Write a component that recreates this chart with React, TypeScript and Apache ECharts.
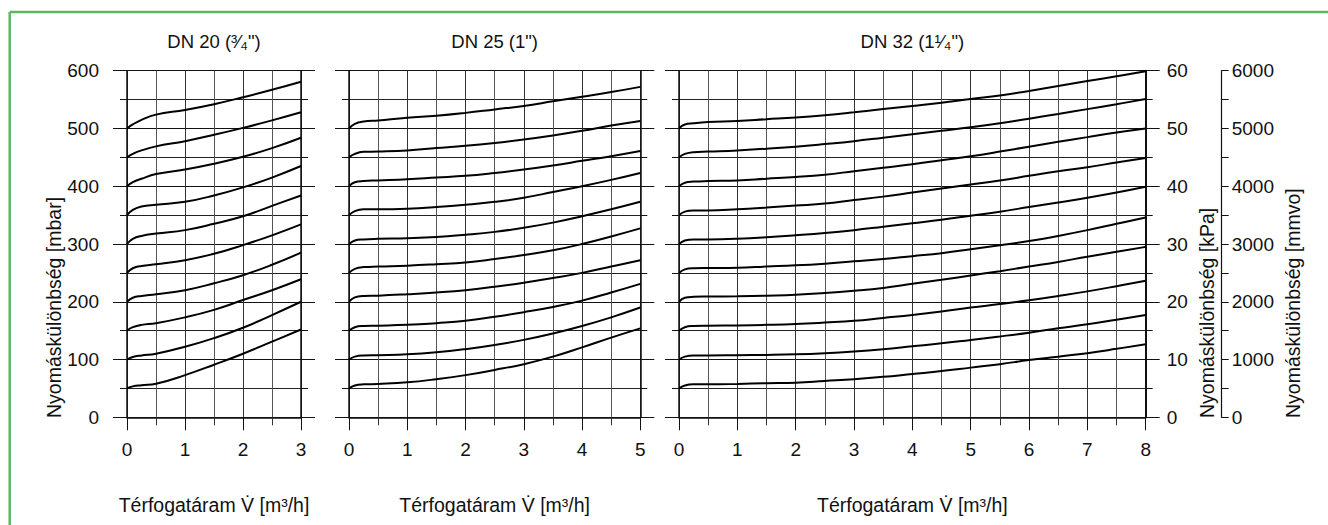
import React, { useEffect, useRef } from "react";
import * as echarts from "echarts";

const FONT = "'Liberation Sans', Arial, Helvetica, sans-serif";

// Panel titles and axis names
const panelTitles = ['DN 20 (³⁄₄")', 'DN 25 (1")', 'DN 32 (1¹⁄₄")'];
const xAxisName = "Térfogatáram V\u0307 [m³/h]";
const leftAxisName = "Nyomáskülönbség [mbar]";
const kpaAxisName = "Nyomáskülönbség [kPa]";
const mmvoAxisName = "Nyomáskülönbség [mmvo]";

// Flow rate (m³/h) sample positions per panel
const dn20X = [0, 0.1, 0.25, 0.5, 1, 1.5, 2, 2.5, 3];
const dn25X = [0, 0.1, 0.25, 0.5, 1, 1.5, 2, 2.5, 3, 3.5, 4, 4.5, 5];
const dn32X = [0, 0.1, 0.25, 0.5, 1, 1.5, 2, 2.5, 3, 3.5, 4, 4.5, 5, 5.5, 6, 6.5, 7, 7.5, 8];

// Pressure difference curves (mbar)
const dn20Curves = [
  [50, 53.5, 55.5, 58, 73, 91, 110, 131, 152],
  [100, 104.5, 107, 110, 122, 137, 155, 177, 200],
  [150, 156, 160, 163, 173, 186, 203, 220, 239],
  [200, 207, 210, 213, 220, 232, 246, 264, 285],
  [250, 258, 262, 265, 272, 283, 298, 315, 334],
  [300, 309, 314, 318, 324, 335, 348, 366, 384],
  [350, 359, 365, 368, 373, 384, 398, 415, 435],
  [400, 407, 413, 421, 429, 439, 451, 466, 484],
  [450, 456, 462, 469, 478, 489, 501, 514, 528],
  [500, 507, 515, 524, 532, 542, 554, 567, 581],
];

const dn25Curves = [
  [50, 55, 57, 57.7, 60.5, 66, 73, 82, 92, 105, 121, 138, 154],
  [100, 105, 107, 107.5, 109, 112.5, 118, 125, 134, 145, 158, 173, 190],
  [150, 156, 158, 158.5, 160, 163, 167, 174, 182, 191, 202, 216, 231],
  [200, 207.5, 210, 210.5, 213, 216, 220, 226, 233, 241, 250, 261, 272],
  [250, 257, 260, 261, 262.5, 265, 268, 274, 281, 289, 300, 313, 327],
  [300, 306, 308, 309, 310, 312, 316, 321, 328, 337, 348, 360, 373],
  [350, 357, 360, 360, 361, 364, 368, 373, 380, 390, 400, 411, 423],
  [400, 407, 409, 410, 412, 415, 418, 423, 429, 436, 444, 452, 461],
  [450, 456, 459.5, 460, 462, 466, 470, 475, 481, 488, 496, 505, 513],
  [500, 508, 512, 514, 518.5, 522, 527, 533, 539, 547, 555, 563, 572],
];

const dn32Curves = [
  [50, 55, 57, 57, 57.7, 59, 60, 63, 66, 70, 75, 80, 86, 92, 99, 105, 111, 118.5, 126.5],
  [100, 105, 107, 107, 107.5, 108, 109, 111, 114, 118, 123, 128, 134, 140, 146.5, 154, 161, 169, 177],
  [150, 156, 158, 158.5, 159, 160, 161.5, 164, 167, 172, 177, 183, 190, 196, 202.5, 210, 218, 227, 236.5],
  [200, 207, 208.5, 209, 209.5, 210.5, 212, 215, 219, 224, 231, 238, 245.5, 253, 261, 269, 278, 286.5, 295],
  [250, 256, 258, 258.5, 259, 261, 263, 266, 270, 274, 279, 284, 291, 298, 305, 314, 324, 335, 346],
  [300, 306, 308, 308, 309, 311.5, 315, 319, 324, 330, 336, 342, 349, 356, 364, 372, 380, 389, 399],
  [350, 356, 358, 358, 360, 363, 366.5, 370, 376, 382, 389, 396, 403, 410, 418, 426, 433, 441, 449],
  [400, 406, 408, 409, 410, 413, 416, 420, 426, 432, 438, 445, 452, 460, 468.5, 477, 485, 493, 500],
  [450, 456, 459, 460, 462, 465, 468.5, 473, 478, 484, 490, 496, 502, 509, 517, 525, 533.5, 542, 551],
  [500, 507, 509, 511, 513, 516, 519, 523, 528, 533.5, 539, 544.5, 551, 557, 565, 573.5, 582, 590.5, 599],
];

// Axis ranges
const xMax = [3, 5, 8];
const mbarMax = 600;
const kpaMax = 60;
const mmvoMax = 6000;

export default function App() {
  const ref = useRef<HTMLDivElement>(null);

  useEffect(() => {
    document.body.style.margin = "0";
    const chart = echarts.init(ref.current!, null, { renderer: "svg" });

    const INK = "#111";
    const LBL = 19;
    const NAME = 19.5;
    const gridTop = 70.7;
    const gridH = 346.6;
    const grids = [
      { left: 127, top: gridTop, width: 174, height: gridH },
      { left: 349, top: gridTop, width: 291.3, height: gridH },
      { left: 679, top: gridTop, width: 466.7, height: gridH },
    ];

    const xAxes = xMax.map((mx, i) => ({
      type: "value",
      gridIndex: i,
      min: 0,
      max: mx,
      interval: 1,
      name: xAxisName,
      nameLocation: "middle",
      nameGap: 78,
      nameTextStyle: { fontSize: NAME, color: INK, fontFamily: FONT },
      axisLine: { show: true, lineStyle: { color: INK, width: 1.5 } },
      axisTick: { show: true, length: 13, lineStyle: { color: INK, width: 1 } },
      minorTick: { show: true, splitNumber: 2, length: 8, lineStyle: { color: "#333", width: 1 } },
      splitLine: { show: true, lineStyle: { color: "#333", width: 1 } },
      minorSplitLine: { show: true, lineStyle: { color: "#555", width: 1 } },
      axisLabel: { fontSize: LBL, color: INK, fontFamily: FONT, margin: 23 },
    }));

    const mbarAxis = (gridIndex: number, position: string, labels: boolean, split: boolean) => ({
      type: "value",
      gridIndex,
      position,
      min: 0,
      max: mbarMax,
      interval: 100,
      axisLine: { show: true, lineStyle: { color: INK, width: 1.5 } },
      axisTick: { show: true, length: 14, lineStyle: { color: INK, width: 1 } },
      minorTick: { show: true, splitNumber: 2, length: 7, lineStyle: { color: INK, width: 1 } },
      splitLine: { show: split, lineStyle: { color: INK, width: 1 } },
      minorSplitLine: { show: split, lineStyle: { color: "#222", width: 1 } },
      axisLabel: { show: labels, fontSize: LBL, color: INK, fontFamily: FONT, margin: 28 },
    });

    const plain = (v: number) => String(v);

    const yAxes = [
      mbarAxis(0, "left", true, true),
      mbarAxis(0, "right", false, false),
      mbarAxis(1, "left", false, true),
      mbarAxis(1, "right", false, false),
      mbarAxis(2, "left", false, true),
      {
        type: "value",
        gridIndex: 2,
        position: "right",
        min: 0,
        max: kpaMax,
        interval: 10,
        axisLine: { show: true, lineStyle: { color: INK, width: 2 } },
        axisTick: { show: true, length: 14, lineStyle: { color: INK, width: 1 } },
        minorTick: { show: true, splitNumber: 2, length: 7, lineStyle: { color: INK, width: 1 } },
        splitLine: { show: false },
        axisLabel: { show: true, fontSize: LBL, color: INK, fontFamily: FONT, margin: 21, formatter: plain },
      },
      {
        type: "value",
        gridIndex: 2,
        position: "right",
        offset: 76,
        min: 0,
        max: mmvoMax,
        interval: 1000,
        axisLine: { show: true, lineStyle: { color: INK, width: 1.2 } },
        axisTick: { show: true, length: 7, lineStyle: { color: INK, width: 1 } },
        minorTick: { show: true, splitNumber: 2, length: 7, lineStyle: { color: INK, width: 1 } },
        splitLine: { show: false },
        axisLabel: { show: true, fontSize: LBL, color: INK, fontFamily: FONT, margin: 10, formatter: plain },
      },
    ];

    const panels = [
      { xs: dn20X, curves: dn20Curves, yIdx: 0 },
      { xs: dn25X, curves: dn25Curves, yIdx: 2 },
      { xs: dn32X, curves: dn32Curves, yIdx: 4 },
    ];

    const series: any[] = [];
    panels.forEach((p, pi) => {
      p.curves.forEach((c) => {
        series.push({
          type: "line",
          xAxisIndex: pi,
          yAxisIndex: p.yIdx,
          data: p.xs.map((x, i) => [x, c[i]]),
          smooth: 0.45,
          symbol: "none",
          silent: true,
          lineStyle: { color: "#000", width: 2 },
          z: 5,
        });
      });
    });

    const centers = grids.map((g) => g.left + g.width / 2);

    const green = "#5cb85c";
    const rotatedName = (text: string, x: number) => ({
      type: "text",
      x,
      y: 418,
      rotation: Math.PI / 2,
      style: {
        text,
        fontSize: NAME,
        fontFamily: FONT,
        fill: INK,
        align: "left",
        verticalAlign: "middle",
        textAlign: "left",
        textVerticalAlign: "middle",
      },
    });

    chart.setOption({
      animation: false,
      backgroundColor: "#fff",
      textStyle: { fontFamily: FONT },
      title: panelTitles.map((t, i) => ({
        text: t,
        left: centers[i],
        top: 32,
        padding: 0,
        textAlign: "center",
        textStyle: { fontSize: 18.5, fontWeight: "normal", color: INK, fontFamily: FONT },
      })),
      grid: grids,
      xAxis: xAxes,
      yAxis: yAxes,
      series,
      graphic: [
        { type: "line", shape: { x1: 9.7, y1: 12, x2: 1330, y2: 12 }, style: { stroke: green, lineWidth: 2.5 } },
        { type: "line", shape: { x1: 9.7, y1: 12, x2: 9.7, y2: 530 }, style: { stroke: green, lineWidth: 2.5 } },
        rotatedName(leftAxisName, 53.5),
        rotatedName(kpaAxisName, 1207),
        rotatedName(mmvoAxisName, 1293),
      ],
    });

    return () => chart.dispose();
  }, []);

  return <div ref={ref} style={{ width: 1328, height: 525 }} />;
}
